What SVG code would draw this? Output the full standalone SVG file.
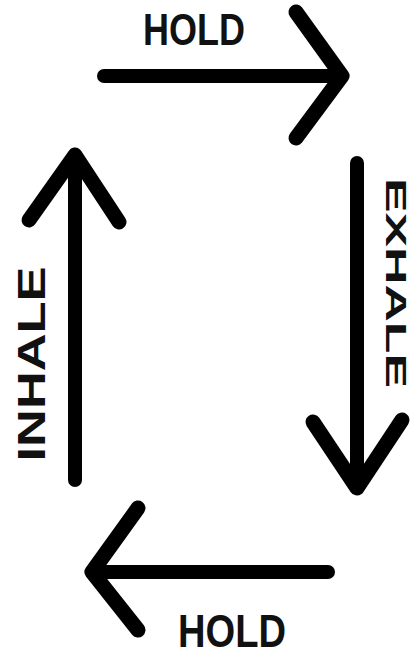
<svg xmlns="http://www.w3.org/2000/svg" width="414" height="656" viewBox="0 0 414 656">
<style>
.ar{fill:none;stroke:#000;stroke-width:14;stroke-linecap:round;stroke-linejoin:miter}
.hd{fill:none;stroke:#000;stroke-width:15;stroke-linecap:round;stroke-linejoin:round}
.lb{font-family:"Liberation Sans",Arial,sans-serif;font-weight:bold;fill:#111}
</style>
<rect width="414" height="656" fill="#fff"/>
<g id="connectors">
<g id="top-arrow"><line class="ar" x1="104" y1="76" x2="336" y2="76"/><polyline class="hd" points="296,12 342,76 296,138"/></g>
<g id="right-arrow"><line class="ar" x1="357" y1="163" x2="357" y2="484"/><polyline class="hd" points="313,422 357,488 402,420"/></g>
<g id="bottom-arrow"><line class="ar" x1="96" y1="572" x2="328" y2="572"/><polyline class="hd" points="138,508 92,572 138,630"/></g>
<g id="left-arrow"><line class="ar" x1="75" y1="160" x2="75" y2="480"/><polyline class="hd" points="29,220 75,155 119,222"/></g>
</g>
<g id="label-hold-top"><text class="lb" x="143" y="45" font-size="45" textLength="102" lengthAdjust="spacingAndGlyphs">HOLD</text></g>
<g id="label-exhale"><text class="lb" transform="translate(386,283) rotate(90)" text-anchor="middle" font-size="29" textLength="210" lengthAdjust="spacingAndGlyphs">EXHALE</text></g>
<g id="label-hold-bottom"><text class="lb" x="178" y="647" font-size="46" textLength="108" lengthAdjust="spacingAndGlyphs">HOLD</text></g>
<g id="label-inhale"><text class="lb" transform="translate(45,364) rotate(-90)" text-anchor="middle" font-size="39" textLength="195" lengthAdjust="spacingAndGlyphs">INHALE</text></g>
</svg>
